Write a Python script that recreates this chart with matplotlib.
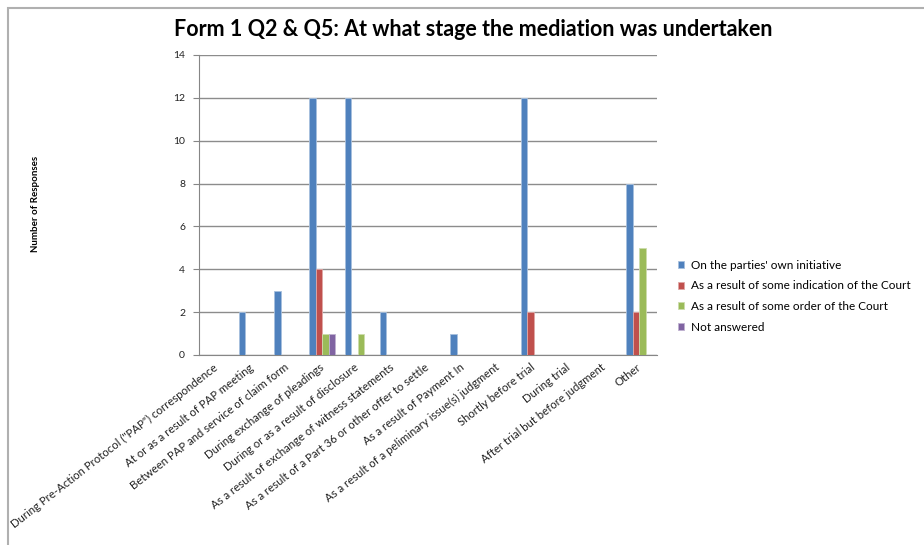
import numpy as np
import matplotlib.pyplot as plt
from matplotlib.patches import Rectangle

plt.rcParams['font.family'] = ['Lato', 'DejaVu Sans']

categories = [
    'During Pre-Action Protocol ("PAP") correspondence',
    'At or as a result of PAP meeting',
    'Between PAP and service of claim form',
    'During exchange of pleadings',
    'During or as a result of disclosure',
    'As a result of exchange of witness statements',
    'As a result of a Part 36 or other offer to settle',
    'As a result of Payment In',
    'As a result of a peliminary issue(s) judgment',
    'Shortly before trial',
    'During trial',
    'After trial but before judgment',
    'Other',
]
series_names = [
    "On the parties' own initiative",
    'As a result of some indication of the Court',
    'As a result of some order of the Court',
    'Not answered',
]
own_initiative = [0, 2, 3, 12, 12, 2, 0, 1, 0, 12, 0, 0, 8]
court_indication = [0, 0, 0, 4, 0, 0, 0, 0, 0, 2, 0, 0, 2]
court_order = [0, 0, 0, 1, 1, 0, 0, 0, 0, 0, 0, 0, 5]
not_answered = [0, 0, 0, 1, 0, 0, 0, 0, 0, 0, 0, 0, 0]

colors = ['#4F81BD', '#C0504D', '#9BBB59', '#8064A2']
edges = ['#a7c0de', '#e0a8a6', '#cddcac', '#bfb1d0']

W, H = 924, 545
fig = plt.figure(figsize=(W / 100, H / 100), dpi=100)
fig.patches.append(Rectangle((8 / W, -0.01), 1.0, 1 - 8 / H + 0.01,
                             transform=fig.transFigure, fill=False,
                             edgecolor='#b0b0b0', lw=1.5))

ax = fig.add_axes([199 / W, (H - 355) / H, (657 - 199) / W, 300 / H])

x = np.arange(len(categories))
bw = 0.185
data = [own_initiative, court_indication, court_order, not_answered]
for i, vals in enumerate(data):
    ax.bar(x + (i - 1.5) * bw, vals, bw, color=colors[i], edgecolor=edges[i],
           linewidth=0.6, label=series_names[i], zorder=3)

ax.set_xlim(-0.5, len(categories) - 0.5)
ax.set_ylim(0, 14)
ax.set_yticks(range(0, 15, 2))
ax.yaxis.grid(True, color='#8c8c8c', lw=1.0, zorder=0)
for s in ['top', 'right']:
    ax.spines[s].set_visible(False)
for s in ['left', 'bottom']:
    ax.spines[s].set_color('#868686')
ax.tick_params(axis='y', length=4, color='#868686', labelsize=7.5, pad=6,
               labelcolor='#222222')
ax.tick_params(axis='x', length=0, pad=8)
ax.set_xticks(x)
ax.set_xticklabels(categories, rotation=38, ha='right', va='center',
                   rotation_mode='anchor', fontsize=8.2, color='#222222')

fig.text(35 / W, 1 - 204 / H, 'Number of Responses', rotation=90,
         ha='center', va='center', fontsize=7, fontweight='bold')
fig.text(473 / W, 1 - 30 / H,
         'Form 1 Q2 & Q5: At what stage the mediation was undertaken',
         ha='center', va='center', fontsize=15.5, fontweight='bold')

fig.legend(loc='upper left', bbox_to_anchor=(667 / W, 1 - 249 / H),
           frameon=False, fontsize=8.5, handlelength=0.55, handleheight=0.55,
           handletextpad=0.6, labelspacing=0.82)

fig.savefig('out.png', dpi=100)
